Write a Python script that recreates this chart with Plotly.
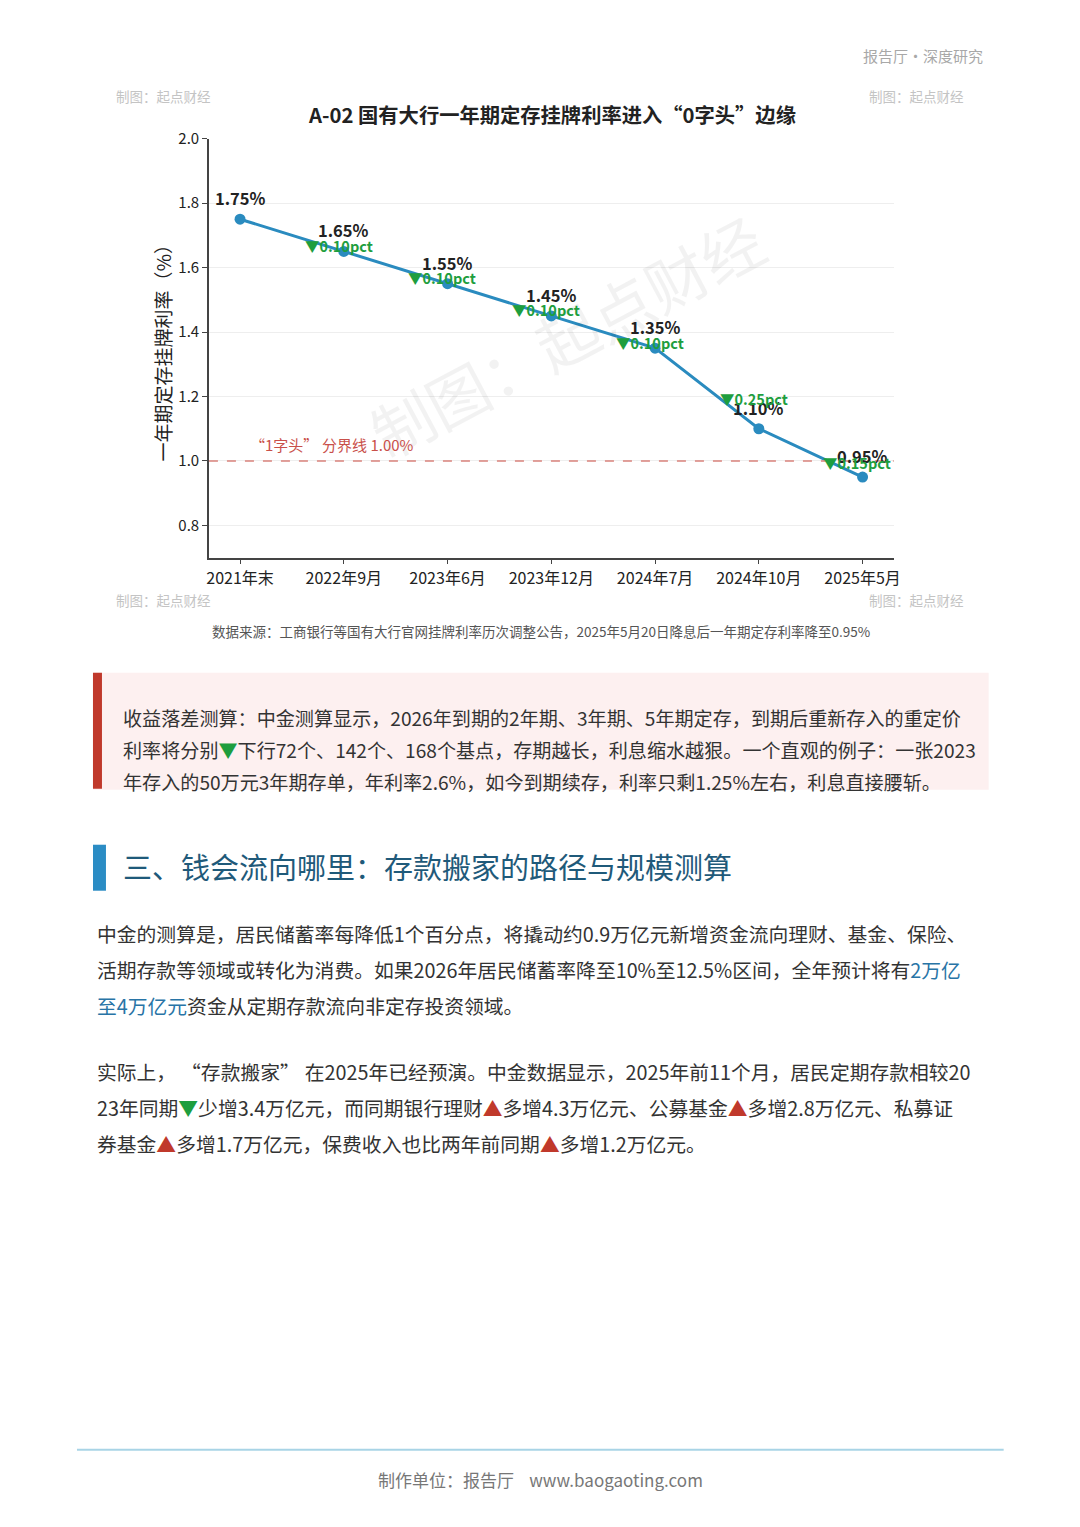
import plotly.graph_objects as go

W, H = 1080, 1527
FONT = "Noto Sans CJK SC"

# chart data
dates = ['2021年末', '2022年9月', '2023年6月', '2023年12月', '2024年7月', '2024年10月', '2025年5月']
rates = [1.75, 1.65, 1.55, 1.45, 1.35, 1.10, 0.95]
cuts = [None, 0.10, 0.10, 0.10, 0.10, 0.25, 0.15]
threshold = 1.00
y_ticks = [0.8, 1.0, 1.2, 1.4, 1.6, 1.8, 2.0]

title = 'A-02 国有大行一年期定存挂牌利率进入“0字头”边缘'
y_title = '一年期定存挂牌利率（%）'
source = '数据来源：工商银行等国有大行官网挂牌利率历次调整公告，2025年5月20日降息后一年期定存利率降至0.95%'
credit = '制图：起点财经'

GREEN = '#1e9e3e'
RED = '#c0392b'
BLUE_TXT = '#2874a6'

box_lines = [
    '收益落差测算：中金测算显示，2026年到期的2年期、3年期、5年期定存，到期后重新存入的重定价',
    f'利率将分别<span style="color:{GREEN}">▼</span>下行72个、142个、168个基点，存期越长，利息缩水越狠。一个直观的例子：一张2023',
    '年存入的50万元3年期存单，年利率2.6%，如今到期续存，利率只剩1.25%左右，利息直接腰斩。',
]
heading = '三、钱会流向哪里：存款搬家的路径与规模测算'
para1 = [
    '中金的测算是，居民储蓄率每降低1个百分点，将撬动约0.9万亿元新增资金流向理财、基金、保险、',
    f'活期存款等领域或转化为消费。如果2026年居民储蓄率降至10%至12.5%区间，全年预计将有<span style="color:{BLUE_TXT}">2万亿</span>',
    f'<span style="color:{BLUE_TXT}">至4万亿元</span>资金从定期存款流向非定存投资领域。',
]
para2 = [
    '实际上，\u2005“存款搬家”\u2005在2025年已经预演。中金数据显示，2025年前11个月，居民定期存款相较20',
    f'23年同期<span style="color:{GREEN}">▼</span>少增3.4万亿元，而同期银行理财<span style="color:{RED}">▲</span>多增4.3万亿元、公募基金<span style="color:{RED}">▲</span>多增2.8万亿元、私募证',
    f'券基金<span style="color:{RED}">▲</span>多增1.7万亿元，保费收入也比两年前同期<span style="color:{RED}">▲</span>多增1.2万亿元。',
]

# the page comes out slightly shrunk and pushed down, undo that
S, OX, OY = 0.992, 1.0, 12.4


def px(x):
    return (x - OX) / S / W


def py(y):
    return 1 - (y - OY) / S / H


def text(x, y, s, size, color, anchor='left', bold=False, **kw):
    if bold:
        s = f'<b>{s}</b>'
    if anchor == 'left':
        x -= 3  # annotation box padding
    return dict(xref='paper', yref='paper', x=px(x), y=py(y), text=s, showarrow=False,
                xanchor=anchor, yanchor='middle',
                font=dict(family=FONT, size=size, color=color), **kw)


fig = go.Figure()
fig.add_trace(go.Scatter(
    x=list(range(len(dates))), y=rates, mode='lines+markers',
    line=dict(color='#2a8bbf', width=3),
    marker=dict(color='#2a8bbf', size=11),
    showlegend=False, hoverinfo='skip',
))

ann = []
# watermark in the plot
ann.append(dict(xref='paper', yref='paper', x=px(565), y=py(335), xanchor='center', yanchor='middle',
                text=credit, showarrow=False, textangle=-28,
                font=dict(family=FONT, size=62, color='rgba(0,0,0,0.05)')))

# value labels and cut labels
for i, r in enumerate(rates):
    ann.append(dict(x=i, y=r, xref='x', yref='y', text=f'<b>{r:.2f}%</b>', showarrow=False,
                    yshift=21, font=dict(family=FONT, size=16.5, color='#222')))
    if cuts[i]:
        ann.append(dict(x=i - 0.05, y=(rates[i - 1] + r) / 2, xref='x', yref='y',
                        text=f'<b>▼{cuts[i]:.2f}pct</b>', showarrow=False, yshift=-10,
                        font=dict(family=FONT, size=14.5, color=GREEN)))

ann.append(dict(x=0.08, y=threshold, xref='x', yref='y', xanchor='left', yshift=16,
                text=f'“1字头”\u2005分界线 {threshold:.2f}%', showarrow=False,
                font=dict(family=FONT, size=15, color='#c9504a')))

ann += [
    text(922, 56, '报告厅·深度研究', 15, '#a8a8a8', anchor='center'),
    text(551, 114, title, 20.3, '#222', anchor='center', bold=True),
    text(163, 96, credit, 13.5, '#c4c4c4', anchor='center'),
    text(916, 96, credit, 13.5, '#c4c4c4', anchor='center'),
    text(163, 600, credit, 13.5, '#c4c4c4', anchor='center'),
    text(916, 600, credit, 13.5, '#c4c4c4', anchor='center'),
    text(540, 631, source, 13.5, '#555', anchor='center'),
    text(123, 866, heading, 29, '#1f5a7a'),
    text(540, 1480, '制作单位：报告厅    www.baogaoting.com', 17, '#777', anchor='center'),
]
for k, s in enumerate(box_lines):
    ann.append(text(123, 718 + 32 * k, s, 19.1, '#333'))
for k, s in enumerate(para1):
    ann.append(text(97, 934 + 36 * k, s, 19.8, '#333'))
for k, s in enumerate(para2):
    ann.append(text(97, 1072 + 36 * k, s, 19.8, '#333'))

shapes = [
    # 1.00% threshold line
    dict(type='line', xref='paper', yref='y', x0=px(208), x1=px(893), y0=threshold, y1=threshold,
         line=dict(color='#d9827c', width=1.5, dash='dash')),
    # pink box
    dict(type='rect', xref='paper', yref='paper', x0=px(92), x1=px(988), y0=py(790), y1=py(673),
         fillcolor='#fdf0f0', line=dict(width=0), layer='below'),
    dict(type='rect', xref='paper', yref='paper', x0=px(92), x1=px(101), y0=py(789), y1=py(673),
         fillcolor=RED, line=dict(width=0)),
    # heading bar
    dict(type='rect', xref='paper', yref='paper', x0=px(92), x1=px(105), y0=py(891), y1=py(845),
         fillcolor='#2b8cc4', line=dict(width=0)),
    # footer rule
    dict(type='line', xref='paper', yref='paper', x0=px(76), x1=px(1003), y0=py(1450), y1=py(1450),
         line=dict(color='#a8d4e6', width=2)),
]

fig.update_layout(
    width=W, height=H, margin=dict(l=0, r=0, t=0, b=0),
    paper_bgcolor='white', plot_bgcolor='white',
    font=dict(family=FONT, color='#222'),
    annotations=ann, shapes=shapes,
    xaxis=dict(domain=[px(208), px(893)], range=[-0.3, len(dates) - 0.7],
               tickmode='array', tickvals=list(range(len(dates))), ticktext=dates,
               showgrid=False, showline=True, linecolor='#444', linewidth=1.5,
               ticks='outside', ticklen=5, tickcolor='#444',
               tickfont=dict(family=FONT, size=16, color='#222'), zeroline=False),
    yaxis=dict(domain=[py(558), py(139)], range=[0.7, 2.0],
               tickmode='array', tickvals=y_ticks, ticktext=[f'{v:.1f}' for v in y_ticks],
               showgrid=True, gridcolor='#eeeeee', gridwidth=1,
               showline=True, linecolor='#444', linewidth=1.5,
               ticks='outside', ticklen=5, tickcolor='#444',
               tickfont=dict(family=FONT, size=15, color='#222'), zeroline=False,
               title=dict(text=y_title, font=dict(family=FONT, size=19, color='#222'), standoff=2)),
)

reset = (
    "document.documentElement.style.margin='0';document.documentElement.style.padding='0';"
    "document.body.style.margin='0';document.body.style.padding='0';document.body.style.overflow='hidden';"
    "var d=document.getElementsByClassName('plotly-graph-div')[0];"
    "d.style.position='absolute';d.style.top='0px';d.style.left='0px';"
)
fig.write_html("out.html", config={'displayModeBar': False}, post_script=reset)
